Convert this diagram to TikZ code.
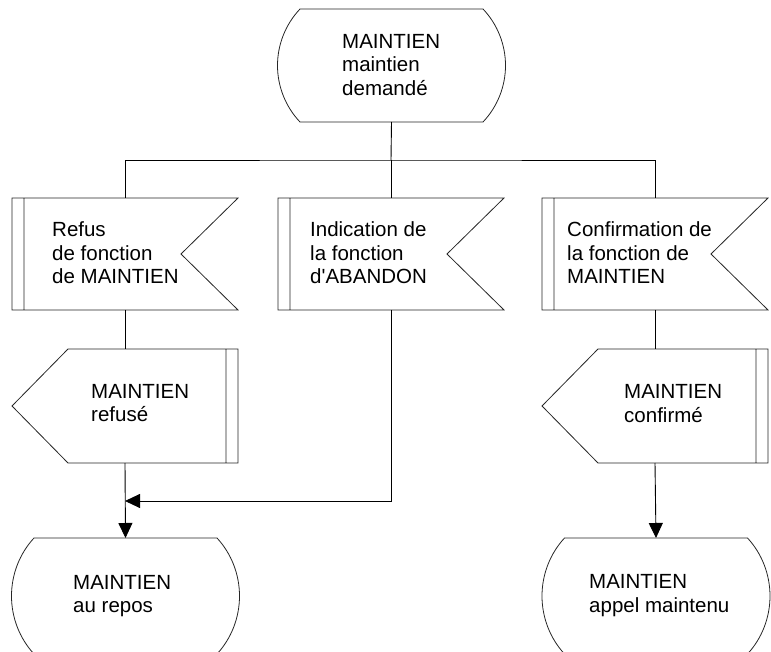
\documentclass[tikz,border=0pt]{standalone}
\usepackage{fontspec}
\setmainfont{Liberation Sans}
\usetikzlibrary{arrows.meta}
\newcommand\statesh[1]{\draw[outline,shift={(#1)}] (-91.5,-56.5) -- (91.5,-56.5) .. controls (105.9,-41.3) and (114,-21) .. (114,0) .. controls (114,21) and (105.9,41.3) .. (91.5,56.5) -- (-91.5,56.5) .. controls (-105.9,41.3) and (-114,21) .. (-114,0) .. controls (-114,-21) and (-105.9,-41.3) .. (-91.5,-56.5) -- cycle;}
\newcommand\statebot[1]{\draw[outline,shift={(#1)}] (-91.5,-58) -- (91.5,-58) .. controls (105.9,-42.4) and (114,-21.6) .. (114,0) .. controls (114,21.6) and (105.9,42.4) .. (91.5,58) -- (-91.5,58) .. controls (-105.9,42.4) and (-114,21.6) .. (-114,0) .. controls (-114,-21.6) and (-105.9,-42.4) .. (-91.5,-58) -- cycle;}
\newcommand\insig[1]{\draw[outline,shift={(#1)}] (-113,-56) -- (113,-56) -- (56,0) -- (113,56) -- (-113,56) -- cycle (-101,-56) -- (-101,56);}
\newcommand\outsig[1]{\draw[outline,shift={(#1)}] (-113,0) -- (-57,-57) -- (113,-57) -- (113,57) -- (-57,57) -- cycle (101,-57) -- (101,57);}
\begin{document}
\begin{tikzpicture}[x=1pt,y=-1pt,
  frame/.style 2 args={minimum width=#1, minimum height=#2, inner sep=0pt, outer sep=0pt},
  outline/.style={draw=black!85, line width=0.8pt},
  conn/.style={draw=black, line width=0.9pt},
  arr/.style={conn, -{Triangle[length=15pt,width=14pt]}},
  txt/.style={anchor=west, align=left, inner sep=0pt, font=\fontsize{20.5}{23.5}\selectfont}]
\useasboundingbox (0,0) rectangle (771,652);
% frames
\node[frame={229pt}{113pt}] (s0) at (391.5,65.5) {};
\node[frame={226pt}{112pt}] (i1) at (125,254) {};
\node[frame={226pt}{112pt}] (i2) at (391,254) {};
\node[frame={226pt}{112pt}] (i3) at (655,254) {};
\node[frame={226pt}{114pt}] (o1) at (125,406) {};
\node[frame={226pt}{114pt}] (o3) at (655,406) {};
\node[frame={228pt}{116pt}] (f1) at (125.5,596) {};
\node[frame={228pt}{116pt}] (f3) at (656,596) {};
% outlines
\statesh{s0}
\insig{i1}
\insig{i2}
\insig{i3}
\outsig{o1}
\outsig{o3}
\statebot{f1}
\statebot{f3}
% texts
\node[txt] (t0) at (342,65) {MAINTIEN\\maintien\\demandé};
\node[txt] (ti1) at (52,253) {Refus\\de fonction\\de MAINTIEN};
\node[txt] (ti2) at (310,253) {Indication de\\la fonction\\d\textquotesingle ABANDON};
\node[txt] (ti3) at (567,253) {Confirmation de\\la fonction de\\MAINTIEN};
\node[txt] (to1) at (91,403) {MAINTIEN\\refusé};
\node[txt] (to3) at (624,403.5) {MAINTIEN\\confirmé};
\node[txt] (tf1) at (73,596) {MAINTIEN\\au repos};
\node[txt] (tf3) at (589,595.5) {MAINTIEN\\appel maintenu};
% connectors
\coordinate (bus) at (391,160);
\coordinate (j1) at (125,501);
\draw[conn] (s0.south) -- (bus);
\draw[conn] (i1.north) |- (bus) -| (i3.north);
\draw[conn] (bus) -- (i2.north);
\draw[conn] (i1.south) -- (o1.north);
\draw[arr] (o1.south) -- (f1.north);
\draw[arr] (i2.south) |- (j1);
\draw[conn] (i3.south) -- (o3.north);
\draw[arr] (o3.south) -- (f3.north);
\end{tikzpicture}
\end{document}
